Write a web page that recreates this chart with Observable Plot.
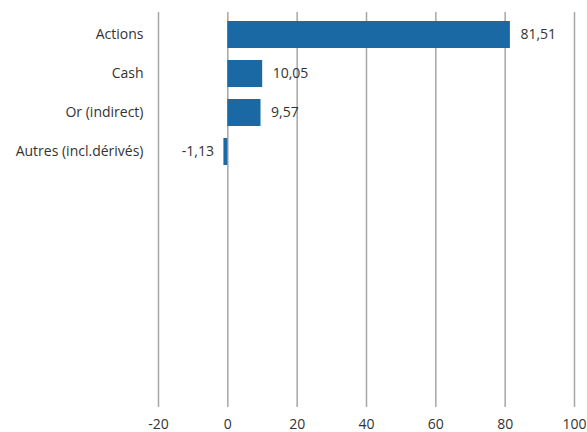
<!DOCTYPE html>
<html><head><meta charset="utf-8">
<script src="https://cdn.jsdelivr.net/npm/d3@7"></script>
<script src="https://cdn.jsdelivr.net/npm/@observablehq/plot@0.6"></script>
<style>body{margin:0;background:#fff;} svg{display:block;}</style>
</head><body><div id="chart"></div>
<script>
const categories = ["Actions", "Cash", "Or (indirect)", "Autres (incl.dérivés)"];
const values = [81.51, 10.05, 9.57, -1.13];
const xTicks = [-20, 0, 20, 40, 60, 80, 100];
const emptySlots = ["_1", "_2", "_3", "_4", "_5", "_6"];

const data = categories.map((c, i) => ({cat: c, v: values[i]}));
const fmt = v => v.toFixed(2).replace(".", ",");
const font = "Open Sans, Lato, sans-serif";

const chart = Plot.plot({
  width: 587, height: 432,
  marginLeft: 158, marginRight: 13, marginTop: 12, marginBottom: 25,
  style: {fontFamily: font, fontSize: "14px", color: "#333", background: "#fff"},
  x: {domain: [-20, 100], ticks: xTicks, tickSize: 0, tickPadding: 12, label: null,
      tickFormat: d => String(d)},
  y: {domain: categories.concat(emptySlots), paddingInner: 0.32, paddingOuter: 0.15, tickSize: 0, tickPadding: 15, label: null,
      tickFormat: d => d.startsWith("_") ? "" : d},
  marks: [
    Plot.ruleX(xTicks, {stroke: "#a6a6a6", strokeWidth: 1.5, strokeOpacity: 1}),
    Plot.barX(data, {x: "v", y: "cat", fill: "#1a69a4"}),
    Plot.text(data.filter(d => d.v >= 0), {x: "v", y: "cat", text: d => fmt(d.v),
      textAnchor: "start", dx: 10, fill: "#333", fontSize: 14}),
    Plot.text(data.filter(d => d.v < 0), {x: "v", y: "cat", text: d => fmt(d.v),
      textAnchor: "end", dx: -10, fill: "#333", fontSize: 14})
  ]
});
document.getElementById("chart").appendChild(chart);
</script></body></html>
